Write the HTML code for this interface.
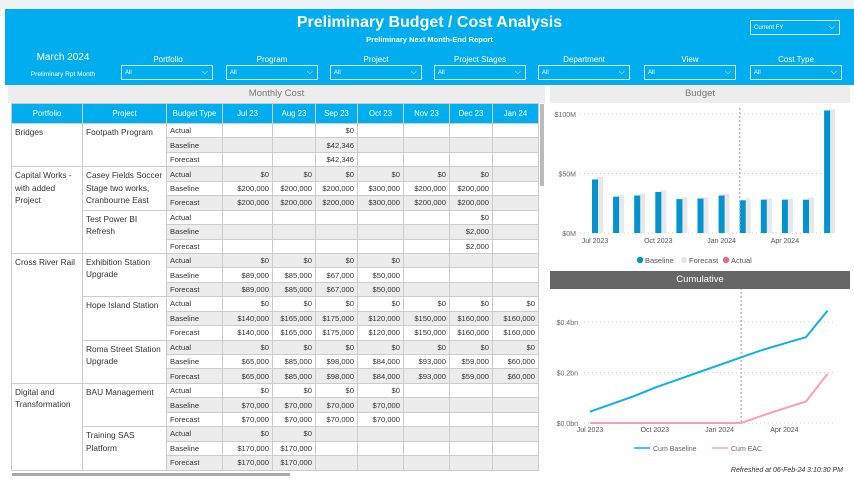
<!DOCTYPE html>
<html><head><meta charset="utf-8">
<style>
*{box-sizing:border-box;margin:0;padding:0}
body{width:854px;height:480px;overflow:hidden;background:#fff;font-family:"Liberation Sans",sans-serif;position:relative}
.abs{position:absolute}
#topstrip{left:0;top:0;width:854px;height:9px;background:#eef2f5}
#header{left:5px;top:9px;width:849px;height:76px;background:#00adee;color:#fff}
.flabel{position:absolute;top:46px;font-size:8px;width:92px;text-align:center;color:#fff}
.dd{position:absolute;top:56px;width:92px;height:15px;border:1px solid #d8f0fb;font-size:6px;color:#fff;padding:4px 0 0 3px}
.dd span{position:absolute;right:4px;top:1px;font-size:8px}
.tbar{background:#ededed;color:#777;font-size:9.5px;text-align:center;line-height:16px}
table{border-collapse:collapse;table-layout:fixed;font-size:7.6px;color:#333}
td{border:1px solid #ccc;height:14.45px;padding:0 3px;white-space:nowrap;overflow:hidden;vertical-align:middle}
td.num{text-align:right}
td.txt{vertical-align:top;padding-top:2px;white-space:normal;line-height:12.5px;font-size:8.3px;background:#fff!important}
tr.g td{background:#ececec}
th{background:#00adee;color:#fff;font-weight:normal;font-size:7.8px;height:20px;border:1px solid #ccc}
</style></head><body>
<div class="abs" id="topstrip"></div>
<div class="abs" id="header">
  <div class="abs" style="left:0;width:849px;top:5px;text-align:center;font-size:16px;font-weight:bold">Preliminary Budget / Cost Analysis</div>
  <div class="abs" style="left:0;width:849px;top:26px;text-align:center;font-size:7.5px;font-weight:bold">Preliminary Next Month-End Report</div>
  <div class="abs" style="left:10px;width:96px;top:43px;text-align:center;font-size:10px">March 2024</div>
  <div class="abs" style="left:10px;width:96px;top:62px;text-align:center;font-size:6.5px">Preliminary Rpt Month</div>
  <div class="dd" style="left:745px;top:11px;width:90px">Current FY<span>⌵</span></div>
  <div class="flabel" style="left:117px">Portfolio</div>
  <div class="dd" style="left:116px">All<span>⌵</span></div>
  <div class="flabel" style="left:221px">Program</div>
  <div class="dd" style="left:221px">All<span>⌵</span></div>
  <div class="flabel" style="left:325px">Project</div>
  <div class="dd" style="left:325px">All<span>⌵</span></div>
  <div class="flabel" style="left:429px">Project Stages</div>
  <div class="dd" style="left:429px">All<span>⌵</span></div>
  <div class="flabel" style="left:533px">Department</div>
  <div class="dd" style="left:533px">All<span>⌵</span></div>
  <div class="flabel" style="left:639px">View</div>
  <div class="dd" style="left:639px">All<span>⌵</span></div>
  <div class="flabel" style="left:745px">Cost Type</div>
  <div class="dd" style="left:745px">All<span>⌵</span></div>
</div>

<div class="abs tbar" style="left:8px;top:86px;width:537px;height:17px">Monthly Cost</div>
<div class="abs tbar" style="left:550px;top:86px;width:300px;height:17px">Budget</div>
<div class="abs" style="left:550px;top:271px;width:300px;height:18px;background:#666;color:#fff;font-size:9.5px;text-align:center;line-height:18px">Cumulative</div>

<div class="abs" style="left:11px;top:103px;width:528px;height:369px;overflow:hidden">
<table id="tbl" style="width:527px">
<colgroup><col style="width:71px"><col style="width:84px"><col style="width:56px"><col style="width:50px"><col style="width:43px"><col style="width:42px"><col style="width:46px"><col style="width:46px"><col style="width:43px"><col style="width:46px"></colgroup>
<thead><tr><th>Portfolio</th><th>Project</th><th>Budget Type</th><th>Jul 23</th><th>Aug 23</th><th>Sep 23</th><th>Oct 23</th><th>Nov 23</th><th>Dec 23</th><th>Jan 24</th></tr></thead>
<tbody id="tb"></tbody></table>
</div>
<div class="abs" style="left:540px;top:104px;width:4px;height:82px;background:#bbb"></div>
<div class="abs" style="left:12px;top:473px;width:278px;height:3px;background:#aaa"></div>

<svg class="abs" style="left:548px;top:103px" width="306" height="168" id="budget"></svg>
<svg class="abs" style="left:548px;top:289px" width="306" height="191" id="cum"></svg>

<script>
const rows=[
["Bridges","Footpath Program",[["Actual",["","","$0","","","",""]],["Baseline",["","","$42,346","","","",""]],["Forecast",["","","$42,346","","","",""]]]],
["Capital Works - with added Project","Casey Fields Soccer Stage two works, Cranbourne East",[["Actual",["$0","$0","$0","$0","$0","$0",""]],["Baseline",["$200,000","$200,000","$200,000","$300,000","$200,000","$200,000",""]],["Forecast",["$200,000","$200,000","$200,000","$300,000","$200,000","$200,000",""]]]],
[null,"Test Power BI Refresh",[["Actual",["","","","","","$0",""]],["Baseline",["","","","","","$2,000",""]],["Forecast",["","","","","","$2,000",""]]]],
["Cross River Rail","Exhibition Station Upgrade",[["Actual",["$0","$0","$0","$0","","",""]],["Baseline",["$89,000","$85,000","$67,000","$50,000","","",""]],["Forecast",["$89,000","$85,000","$67,000","$50,000","","",""]]]],
[null,"Hope Island Station",[["Actual",["$0","$0","$0","$0","$0","$0","$0"]],["Baseline",["$140,000","$165,000","$175,000","$120,000","$150,000","$160,000","$160,000"]],["Forecast",["$140,000","$165,000","$175,000","$120,000","$150,000","$160,000","$160,000"]]]],
[null,"Roma Street Station Upgrade",[["Actual",["$0","$0","$0","$0","$0","$0","$0"]],["Baseline",["$65,000","$85,000","$98,000","$84,000","$93,000","$59,000","$60,000"]],["Forecast",["$65,000","$85,000","$98,000","$84,000","$93,000","$59,000","$60,000"]]]],
["Digital and Transformation","BAU Management",[["Actual",["$0","$0","$0","$0","","",""]],["Baseline",["$70,000","$70,000","$70,000","$70,000","","",""]],["Forecast",["$70,000","$70,000","$70,000","$70,000","","",""]]]],
[null,"Training SAS Platform",[["Actual",["$0","$0","","","","",""]],["Baseline",["$170,000","$170,000","","","","",""]],["Forecast",["$170,000","$170,000","","","","",""]]]]
];
const pfSpan={"Bridges":1,"Capital Works - with added Project":2,"Cross River Rail":3,"Digital and Transformation":2};
let h="",ri=0;
rows.forEach(r=>{
  r[2].forEach((b,bi)=>{
    h+=`<tr class="${ri%2?'g':''}">`;
    if(bi===0&&r[0])h+=`<td class="txt" rowspan="${pfSpan[r[0]]*3}">${r[0]}</td>`;
    if(bi===0)h+=`<td class="txt" rowspan="3">${r[1]}</td>`;
    h+=`<td>${b[0]}</td>`+b[1].map(v=>`<td class="num">${v}</td>`).join("")+"</tr>";
    ri++;
  });
});
document.getElementById("tb").innerHTML=h;

const months=["Jul 2023","Aug 2023","Sep 2023","Oct 2023","Nov 2023","Dec 2023","Jan 2024","Feb 2024","Mar 2024","Apr 2024","May 2024","Jun 2024"];
const baseline=[45,30.5,31.5,34.5,28.5,29,31.5,27.5,28,28,28,103];
const forecast=[47,32,33,36,30,30,33,29,29,29,30,104];
const budgetTicks=[0,50,100];
const budgetTickLabels=["$0M","$50M","$100M"];
const cumBaseline=[0.045,0.075,0.105,0.14,0.17,0.2,0.23,0.26,0.29,0.315,0.34,0.445];
const cumEAC=[0,0,0,0,0,0,0,0,0.03,0.058,0.085,0.195];
const cumTicks=[0,0.2,0.4];
const cumTickLabels=["$0.0bn","$0.2bn","$0.4bn"];
const xLabelIdx=[0,3,6,9];
const xLabels=["Jul 2023","Oct 2023","Jan 2024","Apr 2024"];
const todayIdx=7;

const NS="http://www.w3.org/2000/svg";
function mk(svg,tag,a,txt){const e=document.createElementNS(NS,tag);for(const k in a)e.setAttribute(k,a[k]);if(txt!==undefined)e.textContent=txt;svg.appendChild(e);return e;}

(function(){
const s=document.getElementById("budget");
const y=v=>130-v*1.19, x=i=>45+i*21.1;
budgetTicks.forEach((t,i)=>{
  const g=mk(s,"line",{x1:32,x2:285,y1:y(t),y2:y(t),stroke:"#ccc","stroke-dasharray":"1,3"});
  
  
  const l=mk(s,"text",{x:28,y:y(t)+3,"text-anchor":"end","font-size":"7","fill":"#666"},budgetTickLabels[i]);
  
  
});
months.forEach((m,i)=>{
  const f=mk(s,"rect",{x:x(i)+4,y:y(forecast[i]),width:6,height:forecast[i]*1.19,fill:"#e8e8e8"});
  
  
  const b=mk(s,"rect",{x:x(i)-1,y:y(baseline[i]),width:6,height:baseline[i]*1.19,fill:"#0093d0"});
  
  
});
const d=mk(s,"line",{x1:x(todayIdx)-1,x2:x(todayIdx)-1,y1:5,y2:130,stroke:"#bbb","stroke-width":"1.5","stroke-dasharray":"2,2"});


xLabelIdx.forEach((xi,j)=>{
  const t=mk(s,"text",{x:x(xi)+2,y:140,"text-anchor":"middle","font-size":"7","fill":"#555"},xLabels[j]);
  
  
});
const lg=[["Baseline","#0093d0",92],["Forecast","#e4e4e4",136],["Actual","#f06488",178]];
lg.forEach(l=>{
  const c=mk(s,"circle",{cx:l[2],cy:157,r:3.2,fill:l[1]});
  
  
  const t=mk(s,"text",{x:l[2]+5,y:160,"font-size":"7.5","fill":"#555"},l[0]);
  
  
});
})();

(function(){
const s=document.getElementById("cum");
const y=v=>134-v*252.5, x=i=>42+i*21.6;
cumTicks.forEach((t,i)=>{
  const g=mk(s,"line",{x1:36,x2:285,y1:y(t),y2:y(t),stroke:"#ccc","stroke-dasharray":"1,3"});
  
  
  const l=mk(s,"text",{x:30,y:y(t)+3,"text-anchor":"end","font-size":"7","fill":"#666"},cumTickLabels[i]);
  
  
});
const d=mk(s,"line",{x1:x(todayIdx),x2:x(todayIdx),y1:-5,y2:134,stroke:"#bbb","stroke-width":"1.5","stroke-dasharray":"2,2"});


const p1=mk(s,"polyline",{points:cumBaseline.map((v,i)=>x(i)+","+y(v)).join(" "),fill:"none",stroke:"#11aee8","stroke-width":"2"});


const p2=mk(s,"polyline",{points:cumEAC.map((v,i)=>x(i)+","+y(v)).join(" "),fill:"none",stroke:"#f7a0b4","stroke-width":"2"});


xLabelIdx.forEach((xi,j)=>{
  const t=mk(s,"text",{x:x(xi),y:143,"text-anchor":"middle","font-size":"7","fill":"#555"},xLabels[j]);
  
  
});
[["Cum Baseline","#11aee8",86],["Cum EAC","#f7a0b4",164]].forEach(l=>{
  const m=mk(s,"line",{x1:l[2],x2:l[2]+16,y1:159,y2:159,stroke:l[1],"stroke-width":"1.5"});
  
  
  const t=mk(s,"text",{x:l[2]+19,y:162,"font-size":"7","fill":"#666"},l[0]);
  
  
});
const r=mk(s,"text",{x:295,y:183,"text-anchor":"end","font-size":"7","font-style":"italic","fill":"#333"},"Refreshed at  06-Feb-24 3:10:30 PM");


})();
</script>
</body></html>
